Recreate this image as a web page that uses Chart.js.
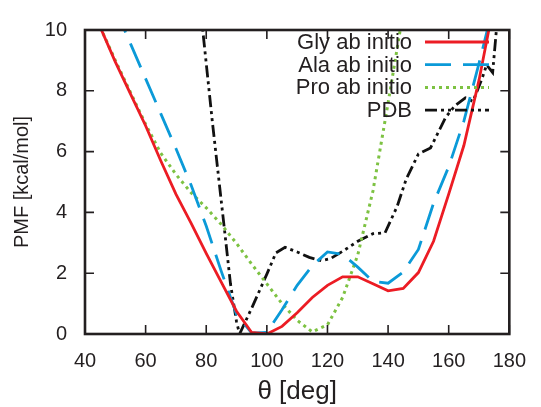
<!DOCTYPE html>
<html>
<head>
<meta charset="utf-8">
<script src="https://cdn.jsdelivr.net/npm/chart.js@4"></script>
<style>
  html, body { margin: 0; padding: 0; background: #fff; }
  canvas { display: block; }
</style>
</head>
<body>
<canvas id="pmf" width="541" height="407"></canvas>
<script>
// Angles (deg) for the ab initio curves, every 5 degrees.
let abTheta = [45, 50, 55, 60, 65, 70, 75, 80, 85, 90, 95, 100, 105, 110, 115, 120, 125, 130, 135, 140, 145, 150, 155, 160, 165, 170, 175];

// PMF values (kcal/mol).
let glyPmf = [10.1, 8.95, 7.9, 6.85, 5.7, 4.6, 3.65, 2.65, 1.7, 0.75, 0.05, 0.0, 0.25, 0.7, 1.2, 1.6, 1.88, 1.88, 1.65, 1.42, 1.5, 2.02, 3.05, 4.6, 6.2, 8.35, 10.9];
let alaPmf = [11.85, 10.7, 9.55, 8.4, 7.25, 6.1, 4.9, 3.55, 2.05, 0.65, 0.03, 0.05, 0.8, 1.6, 2.25, 2.7, 2.62, 2.2, 1.73, 1.67, 2.04, 2.78, 4.3, 5.5, 7.0, 8.9, 10.9];
let proPmf = [10.1, 9.0, 7.95, 6.9, 5.95, 5.25, 4.65, 4.15, 3.6, 2.98, 2.3, 1.65, 1.0, 0.45, 0.07, 0.3, 1.2, 2.6, 4.7, 7.6, 10.6, null, null, null, null, null, null];

// PDB statistics use their own angles.
let pdbTheta = [78, 82, 86, 88, 90, 91, 95, 100, 103, 106, 110, 114, 118, 121, 125, 130, 135, 139, 143, 146, 150, 154, 159, 162, 165.5, 168, 171, 172.5, 174.5, 176];
let pdbPmf = [10.8, 7.0, 3.45, 1.65, 0.4, 0.0, 0.85, 1.97, 2.67, 2.85, 2.7, 2.52, 2.41, 2.48, 2.72, 3.05, 3.3, 3.33, 4.2, 5.1, 5.92, 6.12, 7.13, 7.5, 7.77, 7.65, 8.4, 8.85, 8.6, 10.3];

let seriesLabels = ['Gly ab initio', 'Ala ab initio', 'Pro ab initio', 'PDB'];

let xTicks = [40, 60, 80, 100, 120, 140, 160, 180];
let yTicks = [0, 2, 4, 6, 8, 10];

const FONT = "'Liberation Sans', Arial, Helvetica, sans-serif";
const INK = '#231f20';

function toPoints(xs, ys) {
    return xs.map((x, i) => ({x: x, y: ys[i]}));
}

// Inward tick marks on all four sides plus the frame, gnuplot style.
const frameTicks = {
    id: 'frameTicks',
    afterDraw(chart) {
        const ctx = chart.ctx;
        const a = chart.chartArea;
        const xs = chart.scales.x;
        const ys = chart.scales.y;
        const len = 9;
        ctx.save();
        ctx.strokeStyle = INK;
        ctx.lineWidth = 1.6;
        ctx.beginPath();
        xTicks.forEach(v => {
            const px = xs.getPixelForValue(v);
            ctx.moveTo(px, a.bottom); ctx.lineTo(px, a.bottom - len);
            ctx.moveTo(px, a.top); ctx.lineTo(px, a.top + len);
        });
        yTicks.forEach(v => {
            const py = ys.getPixelForValue(v);
            ctx.moveTo(a.left, py); ctx.lineTo(a.left + len, py);
            ctx.moveTo(a.right, py); ctx.lineTo(a.right - len, py);
        });
        ctx.stroke();
        ctx.lineWidth = 2.6;
        ctx.strokeRect(a.left, a.top, a.right - a.left, a.bottom - a.top);
        ctx.restore();
    }
};

// Key in the upper right: right aligned text, then a line sample.
const keyBox = {
    id: 'keyBox',
    afterDraw(chart) {
        const ctx = chart.ctx;
        const textRight = 412;
        const sampleStart = 425;
        const sampleEnd = 489;
        ctx.save();
        ctx.font = '22px ' + FONT;
        ctx.textAlign = 'right';
        ctx.textBaseline = 'middle';
        chart.data.datasets.forEach((ds, i) => {
            const y = 42 + i * 22.7;
            ctx.fillStyle = INK;
            ctx.fillText(ds.label, textRight, y + 1);
            ctx.strokeStyle = ds.borderColor;
            ctx.lineWidth = ds.borderWidth;
            ctx.setLineDash(ds.borderDash || []);
            ctx.beginPath();
            ctx.moveTo(sampleStart, y);
            ctx.lineTo(sampleEnd, y);
            ctx.stroke();
        });
        ctx.restore();
    }
};

new Chart(document.getElementById('pmf'), {
    type: 'line',
    data: {
        datasets: [{
            label: seriesLabels[0],
            data: toPoints(abTheta, glyPmf),
            borderColor: '#ec1c24',
            borderWidth: 2.8
        }, {
            label: seriesLabels[1],
            data: toPoints(abTheta, alaPmf),
            borderColor: '#0b9ad8',
            borderWidth: 2.8,
            borderDash: [26, 12]
        }, {
            label: seriesLabels[2],
            data: toPoints(abTheta, proPmf),
            borderColor: '#7dc242',
            borderWidth: 3,
            borderDash: [3, 4]
        }, {
            label: seriesLabels[3],
            data: toPoints(pdbTheta, pdbPmf),
            borderColor: '#111111',
            borderWidth: 2.8,
            borderDash: [12, 4, 3, 4, 3, 4]
        }]
    },
    options: {
        responsive: false,
        animation: false,
        layout: {padding: {left: 0, top: 20, right: 23, bottom: 0}},
        elements: {
            point: {radius: 0},
            line: {tension: 0, fill: false}
        },
        plugins: {
            legend: {display: false},
            tooltip: {enabled: false}
        },
        scales: {
            x: {
                type: 'linear',
                min: 40,
                max: 180,
                afterBuildTicks: (s) => { s.ticks = xTicks.map(v => ({value: v})); },
                afterFit: (s) => { s.height = 73; },
                grid: {display: false, drawTicks: false},
                border: {display: false},
                ticks: {color: INK, padding: 15, maxRotation: 0, font: {family: FONT, size: 20}},
                title: {display: true, text: 'θ [deg]', color: INK, padding: {top: 0, bottom: 0}, font: {family: FONT, size: 26}}
            },
            y: {
                type: 'linear',
                min: 0,
                max: 10,
                afterBuildTicks: (s) => { s.ticks = yTicks.map(v => ({value: v})); },
                afterFit: (s) => { s.width = 85; },
                grid: {display: false, drawTicks: false},
                border: {display: false},
                ticks: {color: INK, padding: 18, font: {family: FONT, size: 20}},
                title: {display: true, text: 'PMF [kcal/mol]', color: INK, padding: {top: 10, bottom: 0}, font: {family: FONT, size: 20}}
            }
        }
    },
    plugins: [frameTicks, keyBox]
});
</script>
</body>
</html>
